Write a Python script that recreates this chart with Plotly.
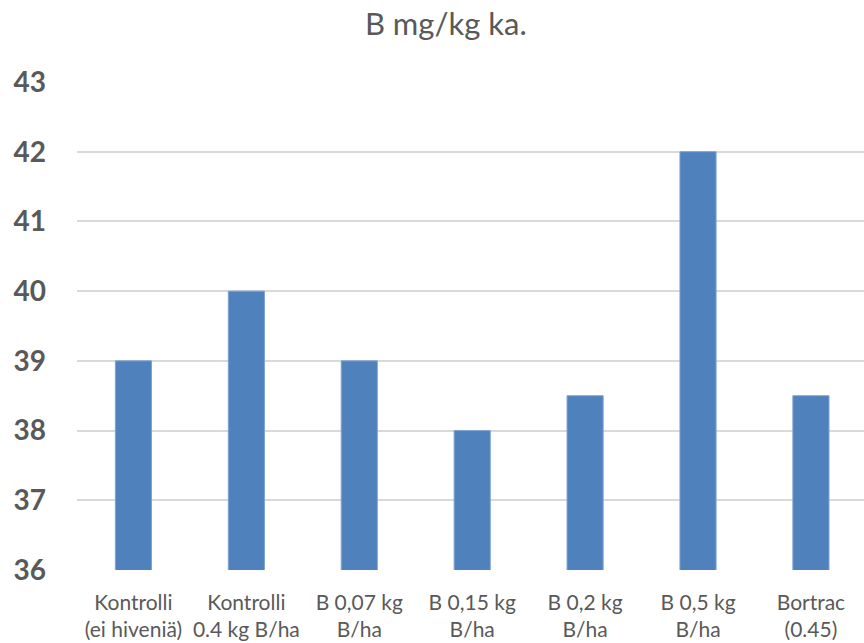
import plotly.graph_objects as go

categories = ["Kontrolli<br>(ei hiveniä)", "Kontrolli<br>0.4 kg B/ha", "B 0,07 kg<br>B/ha",
              "B 0,15 kg<br>B/ha", "B 0,2 kg<br>B/ha", "B 0,5 kg<br>B/ha", "Bortrac<br>(0.45)"]
values = [39, 40, 39, 38, 38.5, 42, 38.5]
y_ticks = [36, 37, 38, 39, 40, 41, 42, 43]

FONT = "Lato, 'Open Sans', sans-serif"
GRAY = "#595959"

fig = go.Figure(go.Bar(x=list(range(len(categories))), y=values, marker_color="#4F81BD",
                       marker_line=dict(width=1, color="#7FA3D3"), width=0.32))

fig.update_layout(
    width=864, height=643,
    margin=dict(l=77, r=0, t=82, b=73),
    paper_bgcolor="white", plot_bgcolor="white",
    title=dict(text="B mg/kg ka.", x=0.516, xanchor="center", y=0.962, yanchor="middle",
               font=dict(family=FONT, size=31, color=GRAY)),
    showlegend=False,
    xaxis=dict(tickmode="array", tickvals=list(range(len(categories))), ticktext=categories,
               range=[-0.5, 6.47], showgrid=False, showline=False, zeroline=False,
               tickfont=dict(family=FONT, size=21, color=GRAY), ticks="", ticklabelstandoff=18),
    yaxis=dict(range=[36, 43], tickvals=y_ticks, showgrid=True, gridcolor="#D9D9D9", gridwidth=2,
               zeroline=False, showline=False, ticks="",
               tickfont=dict(family=FONT, size=28, color=GRAY, weight="bold"),
               ticklabelstandoff=30),
)

fig.write_html("out.html")
